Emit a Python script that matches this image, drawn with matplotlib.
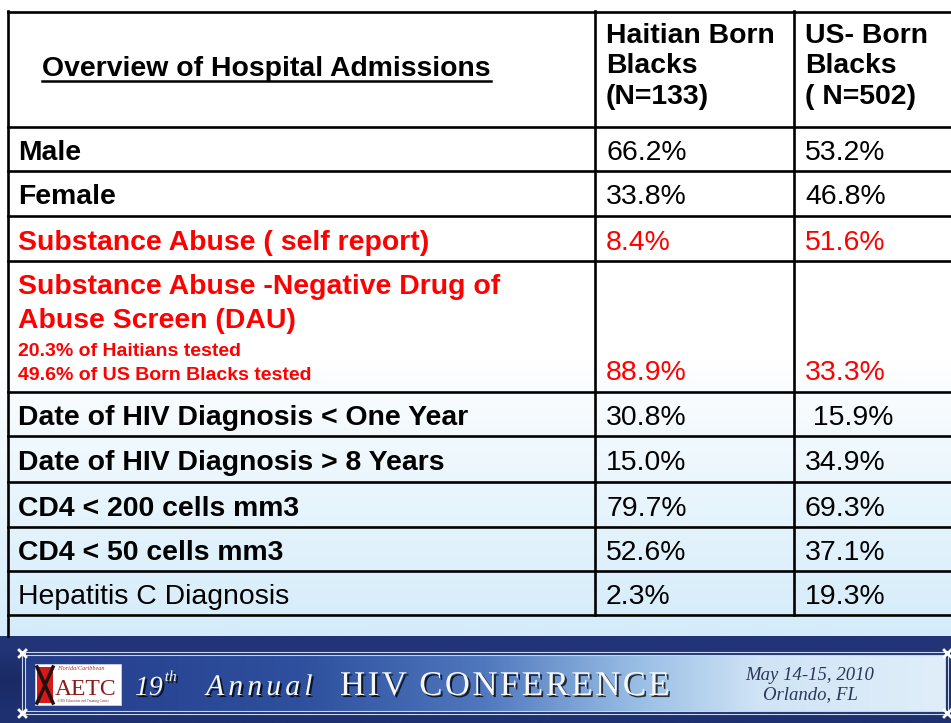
import numpy as np
import matplotlib.pyplot as plt
import matplotlib.patheffects as pe
from matplotlib.patches import Rectangle

plt.rcParams['font.family'] = 'Liberation Sans'

title = "Overview of Hospital Admissions"
col_headers = ["Haitian Born\nBlacks\n(N=133)", "US- Born\nBlacks\n( N=502)"]
row_labels = [
    "Male",
    "Female",
    "Substance Abuse ( self report)",
    "Substance Abuse -Negative Drug of\nAbuse Screen (DAU)",
    "Date of HIV Diagnosis < One Year",
    "Date of HIV Diagnosis > 8 Years",
    "CD4 < 200 cells mm3",
    "CD4 < 50 cells mm3",
    "Hepatitis C Diagnosis",
]
haitian_born = ["66.2%", "33.8%", "8.4%", "88.9%", "30.8%", "15.0%", "79.7%", "52.6%", "2.3%"]
us_born = ["53.2%", "46.8%", "51.6%", "33.3%", " 15.9%", "34.9%", "69.3%", "37.1%", "19.3%"]
dau_notes = ["20.3% of Haitians tested", "49.6% of US Born Blacks tested"]
red_rows = [2, 3]
plain_rows = [8]

banner_num = "19"
banner_sup = "th"
banner_word = "Annual"
banner_caps = "HIV CONFERENCE"
banner_date = "May 14-15, 2010\nOrlando, FL"

W, H = 951, 723
fig = plt.figure(figsize=(W / 100, H / 100), dpi=100)
ax = fig.add_axes([0, 0, 1, 1])
ax.set_xlim(0, W)
ax.set_ylim(H, 0)
ax.axis('off')
renderer = fig.canvas.get_renderer()


def spaced_text(x, y, s, tracking, space, **kw):
    # matplotlib has no letter spacing, so lay the letters out one by one
    for ch in s:
        if ch == ' ':
            x += space
            continue
        t = ax.text(x, y, ch, **kw)
        x += t.get_window_extent(renderer).width + tracking
    return x


# slide background: white fading to light blue
ys = np.arange(0, 636)
frac = np.clip((ys - 360) / (636 - 360), 0, 1) ** 0.9
top_c = np.array([1.0, 1.0, 1.0])
bot_c = np.array([212, 236, 250]) / 255
bg = (top_c[None, :] * (1 - frac[:, None]) + bot_c[None, :] * frac[:, None])[:, None, :]
ax.imshow(bg, extent=(0, W, 636, 0), aspect='auto', interpolation='bilinear', zorder=0)

# banner: dark outer band + horizontal gradient inner panel
band = np.array([[34, 52, 118], [26, 42, 100], [30, 48, 112]]) / 255
ax.imshow(band[:, None, :], extent=(0, W, H, 636), aspect='auto', interpolation='bilinear', zorder=0)
xs = np.linspace(0, 1, 400)
stops_x = [0.0, 0.3, 0.5, 0.66, 0.8, 1.0]
stops_c = np.array([[36, 60, 138], [46, 80, 158], [80, 120, 190], [150, 188, 228],
                    [208, 228, 246], [224, 238, 250]]) / 255
panel = np.stack([np.interp(xs, stops_x, stops_c[:, k]) for k in range(3)], axis=1)[None, :, :]
ax.imshow(panel, extent=(25, 945, 711, 655), aspect='auto', interpolation='bilinear', zorder=0)
for yy in [652, 655, 711, 714]:
    ax.plot([20, 948], [yy, yy], color='#c8d6ee', lw=0.8, zorder=1)
for xx in [22, 25, 945, 948]:
    ax.plot([xx, xx], [652, 714], color='#c8d6ee', lw=0.8, zorder=1)
ax.scatter([22, 22, 947, 947], [653, 713, 653, 713], marker='x', s=40, color='white', lw=2, zorder=2)

# logo
ax.add_patch(Rectangle((35, 664), 86, 41, facecolor='white', edgecolor='#dddddd', lw=0.5, zorder=2))
ax.add_patch(Rectangle((37, 667), 16, 36, facecolor='#d81818', edgecolor='none', zorder=3))
ax.plot([37, 53], [667, 703], color='#201010', lw=2.5, zorder=4)
ax.plot([37, 53], [703, 667], color='#201010', lw=2.5, zorder=4)
ax.text(57, 669, "Florida/Caribbean", fontsize=4.5, color='#b03030', style='italic',
        family='Liberation Serif', va='center', zorder=4)
ax.text(55, 695, "AETC", fontsize=17, color='#8a1c1c', family='Liberation Serif',
        va='baseline', zorder=4)
ax.text(57, 701, "AIDS Education and Training Center", fontsize=2.5, color='#704040',
        family='Liberation Serif', va='center', zorder=4)

# banner title
shadow = [pe.withSimplePatchShadow(offset=(1.5, -1.5), shadow_rgbFace='black', alpha=0.75)]
serif = dict(color='#f4f6fa', family='Liberation Serif', va='baseline', path_effects=shadow, zorder=5)
xe = spaced_text(135, 695, banner_num, 0, 0, fontsize=20, style='italic', **serif)
ax.text(xe + 2, 681, banner_sup, fontsize=11, style='italic', **serif)
spaced_text(206, 695, banner_word, 4, 8, fontsize=21.5, style='italic', **serif)
spaced_text(340, 695, banner_caps, 2.5, 10, fontsize=25, **serif)
ax.text(810, 685, banner_date, fontsize=13.5, color='#2c3656', style='italic',
        family='Liberation Serif', ha='center', va='center', linespacing=1.15, zorder=5)

# table grid
row_edges = [127, 171, 216, 261, 392, 436, 482, 527, 571, 615]
col_x = [8, 595, 794]
lw = 1.9
ax.plot([8, W], [12, 12], color='black', lw=lw, zorder=6)
for yy in row_edges:
    ax.plot([8, W], [yy, yy], color='black', lw=lw, zorder=6)
ax.plot([8, 8], [11, 636], color='black', lw=lw, zorder=6)
for xx in col_x[1:]:
    ax.plot([xx, xx], [11, 615], color='black', lw=lw, zorder=6)

fs = 20.4
# header
t = ax.text(42, 76, title, fontsize=fs, fontweight='bold', va='baseline', zorder=7)
bb = t.get_window_extent(renderer).transformed(ax.transData.inverted())
ax.plot([bb.x0, bb.x1], [80.5, 80.5], color='black', lw=1.8, zorder=7)
header_baselines = [43, 73, 104]
for j, hdr in enumerate(col_headers):
    for line, yb in zip(hdr.split('\n'), header_baselines):
        ax.text(col_x[j + 1] + 11, yb, line, fontsize=fs, fontweight='bold', va='baseline', zorder=7)

# body
for i, label in enumerate(row_labels):
    y0, y1 = row_edges[i], row_edges[i + 1]
    color = 'red' if i in red_rows else 'black'
    weight = 'normal' if i in plain_rows else 'bold'
    if i == 3:
        for line, yb in zip(label.split('\n'), [294, 328]):
            ax.text(18, yb, line, fontsize=fs, fontweight=weight, color=color, va='baseline', zorder=7)
        for line, yb in zip(dau_notes, [356, 380.5]):
            ax.text(18, yb, line, fontsize=14, fontweight='bold', color=color, va='baseline', zorder=7)
        yv = 380.5
    else:
        yv = (y0 + y1) / 2 + 11
        ax.text(18, yv, label, fontsize=fs, fontweight=weight, color=color, va='baseline', zorder=7)
    ax.text(col_x[1] + 11, yv, haitian_born[i], fontsize=fs, color=color, va='baseline', zorder=7)
    ax.text(col_x[2] + 11, yv, us_born[i], fontsize=fs, color=color, va='baseline', zorder=7)

fig.savefig('out.png', dpi=100)
